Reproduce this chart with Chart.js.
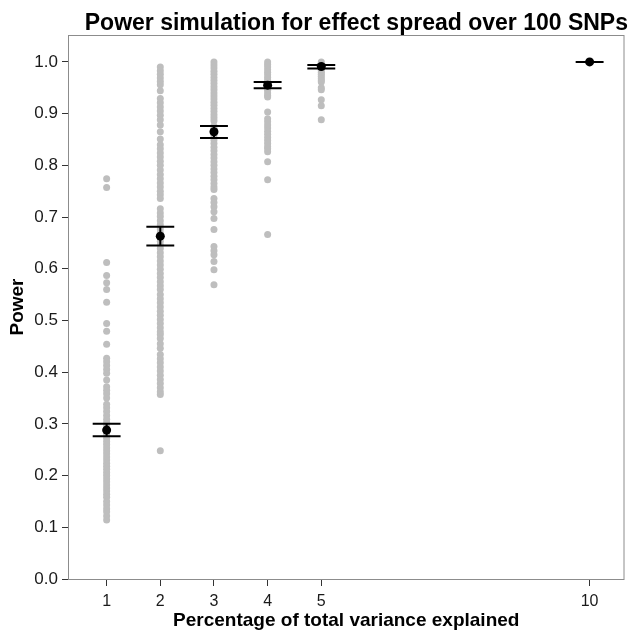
<!DOCTYPE html>
<html>
<head>
<meta charset="utf-8">
<title>Power simulation for effect spread over 100 SNPs</title>
<script src="https://cdn.jsdelivr.net/npm/chart.js@4.4.1/dist/chart.umd.min.js"></script>
<style>
  html, body { margin: 0; padding: 0; background: #fff; }
</style>
</head>
<body>
<canvas id="powerChart" width="629" height="634"></canvas>
<script>
// percentage of total variance explained (x groups)
const variancePct = [1, 2, 3, 4, 5, 10];

// simulated power per run
const sims1 = [0.774, 0.757, 0.612, 0.587, 0.573, 0.560, 0.535, 0.494, 0.479, 0.454,
  0.427, 0.420, 0.413, 0.405, 0.398, 0.385, 0.372, 0.365, 0.358, 0.350,
  0.338, 0.331, 0.324, 0.316, 0.309, 0.302, 0.296, 0.290, 0.284, 0.278,
  0.272, 0.266, 0.260, 0.254, 0.248, 0.242, 0.236, 0.230, 0.224, 0.218,
  0.212, 0.206, 0.200, 0.194, 0.188, 0.182, 0.176, 0.170, 0.164, 0.158,
  0.150, 0.143, 0.136, 0.130, 0.122, 0.114];
const sims2 = [0.990, 0.983, 0.976, 0.969, 0.962, 0.956, 0.944, 0.929, 0.921, 0.913,
  0.905, 0.897, 0.888, 0.878, 0.865, 0.851, 0.840, 0.832, 0.824, 0.816,
  0.808, 0.800, 0.791, 0.782, 0.774, 0.766, 0.758, 0.750, 0.743, 0.736,
  0.716, 0.708, 0.701, 0.693, 0.685, 0.677, 0.669, 0.661, 0.653, 0.646,
  0.639, 0.631, 0.623, 0.615, 0.607, 0.599, 0.591, 0.583, 0.575, 0.567,
  0.560, 0.550, 0.542, 0.534, 0.526, 0.518, 0.510, 0.502, 0.494, 0.486,
  0.478, 0.473, 0.465, 0.455, 0.446, 0.434, 0.426, 0.418, 0.410, 0.402,
  0.394, 0.386, 0.378, 0.370, 0.362, 0.357, 0.248];
const sims3 = [1.000, 0.994, 0.988, 0.982, 0.976, 0.970, 0.964, 0.958, 0.952, 0.946,
  0.940, 0.934, 0.928, 0.922, 0.916, 0.910, 0.904, 0.898, 0.892, 0.886,
  0.876, 0.870, 0.858, 0.849, 0.842, 0.835, 0.828, 0.821, 0.814, 0.807,
  0.800, 0.793, 0.786, 0.779, 0.772, 0.765, 0.758, 0.753, 0.736, 0.728,
  0.720, 0.710, 0.697, 0.676, 0.643, 0.635, 0.627, 0.614, 0.598, 0.569];
const sims4 = [1.000, 0.995, 0.990, 0.985, 0.980, 0.975, 0.970, 0.965, 0.960, 0.950,
  0.945, 0.940, 0.935, 0.932, 0.903, 0.890, 0.884, 0.878, 0.872, 0.866,
  0.860, 0.854, 0.848, 0.842, 0.836, 0.832, 0.826, 0.807, 0.772, 0.666];
const sims5 = [1.000, 0.996, 0.992, 0.988, 0.984, 0.980, 0.976, 0.972, 0.968, 0.964,
  0.961, 0.950, 0.946, 0.927, 0.915, 0.888];
const sims10 = [1.000];
const simsByGroup = [sims1, sims2, sims3, sims4, sims5, sims10];

// mean power and interval (black dots + error bars)
const meanPower = [0.288, 0.663, 0.865, 0.955, 0.991, 1.000];
const ciLow = [0.276, 0.645, 0.853, 0.949, 0.987, 1.000];
const ciHigh = [0.300, 0.681, 0.876, 0.961, 0.994, 1.000];

const xTicks = [1, 2, 3, 4, 5, 10];
const yTicks = [0, 0.1, 0.2, 0.3, 0.4, 0.5, 0.6, 0.7, 0.8, 0.9, 1.0];

const FONT = "'Liberation Sans', Arial, sans-serif";
const CAP_HALF = 0.26; // errorbar cap half-width in x units

const simPoints = simsByGroup.flatMap((vals, i) =>
  vals.map((v) => ({ x: variancePct[i], y: v }))
);
const meanPoints = variancePct.map((v, i) => ({ x: v, y: meanPower[i] }));

// grey frame round the panel
const panelBorder = {
  id: "panelBorder",
  beforeDatasetsDraw(chart) {
    const { ctx, chartArea: a } = chart;
    ctx.save();
    ctx.strokeStyle = "#8c8c8c";
    ctx.lineWidth = 1;
    ctx.strokeRect(a.left + 0.5, a.top + 0.5, a.right - a.left - 1, a.bottom - a.top);
    ctx.restore();
  },
};

// error bars, drawn just before the mean dots
const errorBars = {
  id: "errorBars",
  beforeDatasetDraw(chart, args) {
    if (args.index !== 1) return;
    const { ctx, scales: { x, y } } = chart;
    ctx.save();
    ctx.strokeStyle = "#000";
    ctx.lineWidth = 2;
    variancePct.forEach((v, i) => {
      const xl = x.getPixelForValue(v - CAP_HALF);
      const xr = x.getPixelForValue(v + CAP_HALF);
      const xc = x.getPixelForValue(v);
      const yl = y.getPixelForValue(ciLow[i]);
      const yh = y.getPixelForValue(ciHigh[i]);
      ctx.beginPath();
      ctx.moveTo(xl, yl); ctx.lineTo(xr, yl);
      ctx.moveTo(xl, yh); ctx.lineTo(xr, yh);
      ctx.moveTo(xc, yl); ctx.lineTo(xc, yh);
      ctx.stroke();
    });
    ctx.restore();
  },
};

new Chart(document.getElementById("powerChart"), {
  type: "scatter",
  data: {
    datasets: [
      {
        label: "simulations",
        data: simPoints,
        order: 2,
        pointRadius: 3.5,
        backgroundColor: "#bebebe",
        borderColor: "#bebebe",
        pointBackgroundColor: "#bebebe",
        pointBorderWidth: 0,
      },
      {
        label: "mean",
        data: meanPoints,
        order: 1,
        pointRadius: 4.5,
        backgroundColor: "#000",
        borderColor: "#000",
        pointBackgroundColor: "#000",
        pointBorderWidth: 0,
      },
    ],
  },
  options: {
    responsive: false,
    animation: false,
    layout: { padding: { left: 0, right: 1, top: 0, bottom: 0 } },
    plugins: {
      legend: { display: false },
      tooltip: { enabled: false },
      title: {
        display: true,
        text: "Power simulation for effect spread over 100 SNPs",
        align: "end",
        color: "#000",
        font: { family: FONT, size: 23, weight: "bold", lineHeight: 1.0 },
        padding: { top: 12, bottom: 0 },
      },
    },
    scales: {
      x: {
        type: "linear",
        min: 0.28,
        max: 10.65,
        afterBuildTicks: (s) => { s.ticks = xTicks.map((v) => ({ value: v })); },
        afterFit: (s) => { s.height = 55; },
        border: { display: false },
        grid: { drawOnChartArea: false, drawTicks: true, tickLength: 7, tickColor: "#333", tickWidth: 1 },
        ticks: { color: "#1a1a1a", padding: 6, font: { family: FONT, size: 16 }, callback: (v) => String(v) },
        title: {
          display: true,
          text: "Percentage of total variance explained",
          color: "#000",
          font: { family: FONT, size: 19, weight: "bold", lineHeight: 1.2 },
          padding: { top: 0, bottom: 2 },
        },
      },
      y: {
        type: "linear",
        min: 0,
        max: 1.052,
        afterBuildTicks: (s) => { s.ticks = yTicks.map((v) => ({ value: v })); },
        afterFit: (s) => { s.width = 68; },
        border: { display: false },
        grid: { drawOnChartArea: false, drawTicks: true, tickLength: 6, tickColor: "#333", tickWidth: 1 },
        ticks: { color: "#1a1a1a", padding: 4, font: { family: FONT, size: 17 }, callback: (v) => v.toFixed(1) },
        title: {
          display: true,
          text: "Power",
          color: "#000",
          font: { family: FONT, size: 19, weight: "bold", lineHeight: 1.2 },
          padding: { top: 6, bottom: 0 },
        },
      },
    },
  },
  plugins: [panelBorder, errorBars],
});
</script>
</body>
</html>
